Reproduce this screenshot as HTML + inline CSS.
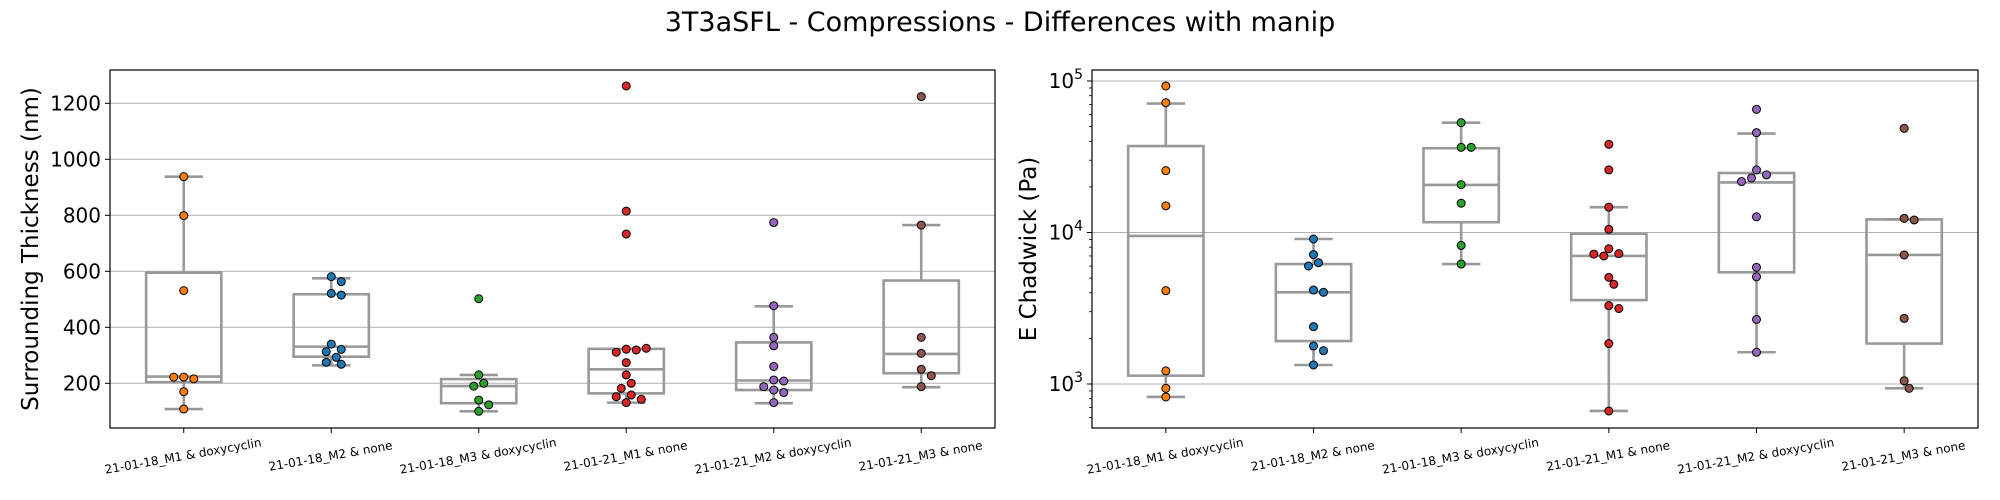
<!DOCTYPE html>
<html><head><meta charset="utf-8"><style>
html,body{margin:0;padding:0;background:#fff;}
svg{display:block;font-family:"DejaVu Sans","Liberation Sans",sans-serif;}
</style></head><body>
<svg id="chart" width="2000" height="500" xmlns="http://www.w3.org/2000/svg">
<rect width="2000" height="500" fill="#fff"/>
<text x="1000" y="31" font-size="27" text-anchor="middle" fill="#000">3T3aSFL - Compressions - Differences with manip</text>
<g id="left"></g>
<g id="right"></g>
</svg>
<script>
const categories = ["21-01-18_M1 & doxycyclin","21-01-18_M2 & none","21-01-18_M3 & doxycyclin","21-01-21_M1 & none","21-01-21_M2 & doxycyclin","21-01-21_M3 & none"];
const colors = ["#ff7f0e","#1f77b4","#2ca02c","#d62728","#9467bd","#8c564b"];

const thickPoints = [
 [938,799,531,222,216,222,170,108],
 [581,563,521,515,340,321,313,293,275,268],
 [502,230,200,190,140,123,100],
 [1262,815,733,322,319,311,325,274,230,200,182,158,152,143,131],
 [774,477,364,334,260,212,208,188,176,167,131],
 [1224,765,364,307,250,227,188]
];
const thickQ1 = [204,295,129,164,176,236];
const thickMed = [224,331,190,250,210,305];
const thickQ3 = [595,518,215,323,346,567];
const thickWlo = [108,264,100,131,129,186];
const thickWhi = [938,575,230,323,475,765];
const thickTicks = [200,400,600,800,1000,1200];

const chadPoints = [
 [92700,71900,25600,15000,4130,1220,936,821],
 [9060,7150,6320,6010,4170,4030,2390,1780,1660,1335],
 [53100,36500,36500,20700,15600,8220,6190],
 [38200,25900,14700,10500,7810,7250,7000,7200,5060,4550,3290,3150,1850,664],
 [65000,45600,25900,24000,22900,21700,12700,5890,5100,2670,1620],
 [48700,12400,12100,7110,2710,1050,936]
];
const chadQ1 = [1135,1920,11700,3580,5460,1850];
const chadMed = [9490,4030,20600,7000,21400,7110];
const chadQ3 = [37200,6190,36000,9810,24700,12200];
const chadWlo = [821,1335,6190,664,1620,936];
const chadWhi = [71000,9060,53100,14700,45000,12200];
const chadTicks = [1000,10000,100000];

const NS="http://www.w3.org/2000/svg";
function mk(parent,tag,attrs,text){const e=document.createElementNS(NS,tag);for(const k in attrs)e.setAttribute(k,attrs[k]);if(text!==undefined)e.textContent=text;parent.appendChild(e);return e;}

function panel(gid,L,R,T,B,yScale,pts,q1,med,q3,wlo,whi,ticks,isLog,ylabel,ylabelX){
  const g=document.getElementById(gid);
  const n=categories.length, step=(R-L)/n;
  const xS=i=>L+step*(i+0.5);
  ticks.forEach((t,i)=>{
    const y=yScale(t);
    const gl=mk(g,'line',{x1:L,x2:R,y1:y,y2:y,stroke:'#b0b0b0','stroke-width':1});
    
    
    mk(g,'line',{x1:L-5,x2:L,y1:y,y2:y,stroke:'#000','stroke-width':1});
    let tl;
    if(isLog){
      tl=mk(g,'text',{x:L-9,y:y+7,'font-size':20,'text-anchor':'end',fill:'#000'});
      const a=document.createElementNS(NS,'tspan');a.textContent='10';tl.appendChild(a);
      const b=document.createElementNS(NS,'tspan');b.setAttribute('dy','-9');b.setAttribute('font-size','14');b.textContent=String(Math.round(Math.log10(t)));tl.appendChild(b);
    } else {
      tl=mk(g,'text',{x:L-9,y:y+7,'font-size':20,'text-anchor':'end',fill:'#000'},String(t));
    }
    
    
  });
  if(isLog){
    for(let d=2;d<=5;d++){for(let m=2;m<=9;m++){const v=m*Math.pow(10,d);const y=yScale(v);if(y>T&&y<B)mk(g,'line',{x1:L-3,x2:L,y1:y,y2:y,stroke:'#000','stroke-width':0.8});}}
  }
  for(let i=0;i<n;i++){
    const cx=xS(i), hw=step*0.255, cap=step*0.13;
    const bg=mk(g,'g',{});
    
    
    const st={stroke:'#999999','stroke-width':2.6,fill:'none'};
    mk(bg,'line',Object.assign({x1:cx,x2:cx,y1:yScale(wlo[i]),y2:yScale(q1[i])},st));
    mk(bg,'line',Object.assign({x1:cx,x2:cx,y1:yScale(q3[i]),y2:yScale(whi[i])},st));
    mk(bg,'line',Object.assign({x1:cx-cap,x2:cx+cap,y1:yScale(wlo[i]),y2:yScale(wlo[i])},st));
    mk(bg,'line',Object.assign({x1:cx-cap,x2:cx+cap,y1:yScale(whi[i]),y2:yScale(whi[i])},st));
    mk(bg,'rect',Object.assign({x:cx-hw,y:yScale(q3[i]),width:2*hw,height:yScale(q1[i])-yScale(q3[i])},st));
    mk(bg,'line',Object.assign({x1:cx-hw,x2:cx+hw,y1:yScale(med[i]),y2:yScale(med[i])},st));
  }
  for(let i=0;i<n;i++){
    const cx=xS(i), placed=[];
    pts[i].forEach(v=>{
      const y=yScale(v);let off=0;
      const cands=[0];for(let k=1;k<10;k++){cands.push(k*5,-k*5);}
      for(const c of cands){if(placed.every(p=>Math.hypot(p[0]-c,p[1]-y)>=8.4)){off=c;break;}}
      placed.push([off,y]);
      const c=mk(g,'circle',{cx:cx+off,cy:y,r:4,fill:colors[i],stroke:'#000','stroke-width':1});
      
      
    });
  }
  const fr=mk(g,'rect',{x:L,y:T,width:R-L,height:B-T,fill:'none',stroke:'#000','stroke-width':1.2});
  
  
  for(let i=0;i<n;i++){
    const cx=xS(i);
    mk(g,'line',{x1:cx,x2:cx,y1:B,y2:B+5,stroke:'#000','stroke-width':1});
    const t=mk(g,'text',{x:0,y:0,'font-size':12,'text-anchor':'middle',fill:'#000',transform:`translate(${cx},${B+32}) rotate(-10)`},categories[i]);
    
    
  }
  const yl=mk(g,'text',{x:0,y:0,'font-size':23,'text-anchor':'middle',fill:'#000',transform:`translate(${ylabelX},${(T+B)/2}) rotate(-90)`},ylabel);
  
  
}

const linY=v=>383.3-(v-200)*0.28;
panel('left',110,995,70,428,linY,thickPoints,thickQ1,thickMed,thickQ3,thickWlo,thickWhi,thickTicks,false,'Surrounding Thickness (nm)',38);
const logY=v=>384-(Math.log10(v)-3)*151.5;
panel('right',1092,1978,70,428,logY,chadPoints,chadQ1,chadMed,chadQ3,chadWlo,chadWhi,chadTicks,true,'E Chadwick (Pa)',1036);
</script>
</body></html>
